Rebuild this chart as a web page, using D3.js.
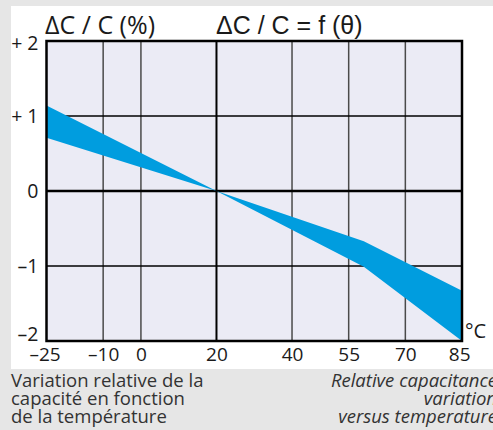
<!DOCTYPE html>
<html>
<head>
<meta charset="utf-8">
<script src="https://cdn.jsdelivr.net/npm/d3@7"></script>
<style>
  body { margin: 0; background: #e6e6e6; }
  svg { display: block; }
</style>
</head>
<body>
<div id="chart"></div>
<script>
// temperature (°C) and the two edges of the tolerance band (% change)
const temps = [-25, 20, 59, 85];
const upperEdge = [1.14, 0, -0.67, -1.33];
const lowerEdge = [0.71, 0, -1.01, -2.0];

const xTicks = [-25, -10, 0, 20, 40, 55, 70, 85];
const xTickLabels = ["\u201325", "\u201310", "0", "20", "40", "55", "70", "85"];
const yTicks = [-2, -1, 0, 1, 2];
const yTickLabels = ["\u20132", "\u20131", "0", "+ 1", "+ 2"];

const captionFr = ["Variation relative de la", "capacité en fonction", "de la température"];
const captionEn = ["Relative capacitance", "variation", "versus temperature"];

const W = 493, H = 430;
const plot = { left: 46.5, right: 462, top: 41, bottom: 341 };

const svg = d3.select("#chart").append("svg")
    .attr("width", W)
    .attr("height", H);

svg.append("rect").attr("width", W).attr("height", H).attr("fill", "#e6e6e6");
svg.append("rect").attr("x", 11).attr("y", 6).attr("width", W - 11).attr("height", 363).attr("fill", "#ffffff");

const x = d3.scaleLinear().domain([-25, 85]).range([plot.left, plot.right]);
const y = d3.scaleLinear().domain([-2, 2]).range([plot.bottom, plot.top]);

svg.append("rect")
    .attr("x", plot.left).attr("y", plot.top)
    .attr("width", plot.right - plot.left).attr("height", plot.bottom - plot.top)
    .attr("fill", "#ebebf5");

// grid
const grid = svg.append("g");
grid.selectAll(".vgrid")
    .data(xTicks.filter(d => d > -25 && d < 85))
    .join("line")
    .attr("x1", d => x(d)).attr("x2", d => x(d))
    .attr("y1", plot.top).attr("y2", plot.bottom)
    .attr("stroke", d => d === 20 ? "#000" : "#4a4a4a")
    .attr("stroke-width", d => d === 20 ? 2 : 1.5);
grid.selectAll(".hgrid")
    .data(yTicks.filter(d => d > -2 && d < 2))
    .join("line")
    .attr("x1", plot.left).attr("x2", plot.right)
    .attr("y1", d => y(d)).attr("y2", d => y(d))
    .attr("stroke", "#000")
    .attr("stroke-width", d => d === 0 ? 2.5 : 1.5);

// tolerance band
const band = temps.map((t, i) => ({ t, hi: upperEdge[i], lo: lowerEdge[i] }));
const area = d3.area()
    .x(d => x(d.t))
    .y0(d => y(d.lo))
    .y1(d => y(d.hi));
svg.append("path")
    .datum(band)
    .attr("d", area)
    .attr("fill", "#009ddf");

// frame
svg.append("rect")
    .attr("x", plot.left).attr("y", plot.top)
    .attr("width", plot.right - plot.left).attr("height", plot.bottom - plot.top)
    .attr("fill", "none")
    .attr("stroke", "#000")
    .attr("stroke-width", 2.5);

const tickFont = "'Open Sans', 'Noto Sans', sans-serif";

// y axis labels
const yAxis = d3.axisLeft(y)
    .tickValues(yTicks)
    .tickSize(0)
    .tickPadding(8)
    .tickFormat((d, i) => yTickLabels[i]);
const gy = svg.append("g")
    .attr("transform", `translate(${plot.left},0)`)
    .call(yAxis);
gy.select(".domain").remove();
gy.selectAll("text")
    .attr("font-family", tickFont)
    .attr("font-size", 19.5)
    .attr("fill", "#1a1a1a")
    .attr("dy", d => d === -2 ? "-0.05em" : (d === 2 ? "0.45em" : "0.35em"));

// x axis labels
const xAxis = d3.axisBottom(x)
    .tickValues(xTicks)
    .tickSize(0)
    .tickPadding(7)
    .tickFormat((d, i) => xTickLabels[i]);
const gx = svg.append("g")
    .attr("transform", `translate(0,${plot.bottom})`)
    .call(xAxis);
gx.select(".domain").remove();
gx.selectAll("text")
    .attr("font-family", tickFont)
    .attr("font-size", 19)
    .attr("fill", "#1a1a1a")
    .attr("dx", d => d === 85 ? "-0.15em" : d === -25 ? "-0.1em" : 0);

// unit and titles
svg.append("text")
    .attr("x", 465).attr("y", 338)
    .attr("font-family", tickFont).attr("font-size", 20)
    .attr("fill", "#1a1a1a")
    .text("°C");

svg.append("text")
    .attr("x", 45).attr("y", 34)
    .attr("font-family", tickFont).attr("font-size", 25)
    .attr("fill", "#1a1a1a")
    .text("\u0394C / C (%)");

svg.append("text")
    .attr("x", 216).attr("y", 34)
    .attr("font-family", "'Liberation Sans', Arial, sans-serif").attr("font-size", 25)
    .attr("fill", "#1a1a1a")
    .text("\u0394C / C = f (\u03b8)");

// captions
const capFont = "'Open Sans', 'Noto Sans', sans-serif";
svg.append("g").selectAll("text")
    .data(captionFr)
    .join("text")
    .attr("x", 11)
    .attr("y", (d, i) => 387 + i * 18)
    .attr("font-family", capFont).attr("font-size", 18.5)
    .attr("fill", "#333")
    .text(d => d);

svg.append("g").selectAll("text")
    .data(captionEn)
    .join("text")
    .attr("x", 497)
    .attr("y", (d, i) => 387 + i * 18)
    .attr("text-anchor", "end")
    .attr("font-family", capFont).attr("font-size", 18.5)
    .attr("font-style", "italic")
    .attr("fill", "#333")
    .text(d => d);
</script>
</body>
</html>
